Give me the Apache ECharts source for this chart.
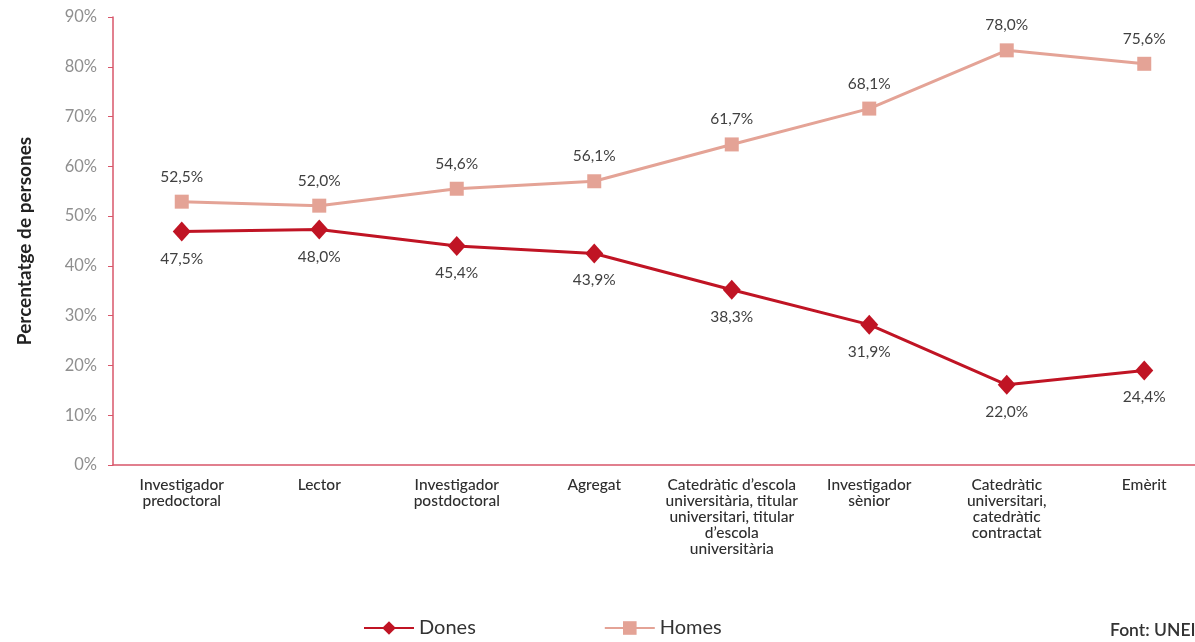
<!DOCTYPE html>
<html>
<head>
<meta charset="utf-8">
<script src="https://cdn.jsdelivr.net/npm/echarts@6/dist/echarts.min.js"></script>
<style>
  html, body { margin: 0; padding: 0; background: #fff; overflow: hidden; }
  /* the original is cropped on the right, so the canvas runs a bit past the window */
  #chart { width: 1225px; height: 642px; }
</style>
</head>
<body>
<div id="chart"></div>
<script>
  // categories
  var categories = [
    'Investigador\npredoctoral',
    'Lector',
    'Investigador\npostdoctoral',
    'Agregat',
    'Catedràtic d’escola\nuniversitària, titular\nuniversitari, titular\nd’escola\nuniversitària',
    'Investigador\nsènior',
    'Catedràtic\nuniversitari,\ncatedràtic\ncontractat',
    'Emèrit'
  ];
  // plotted positions (as drawn in the picture)
  var donesValues = [46.9, 47.3, 44.0, 42.5, 35.2, 28.2, 16.1, 19.0];
  var homesValues = [52.9, 52.1, 55.5, 57.0, 64.4, 71.6, 83.3, 80.6];
  // printed labels
  var donesLabels = ['47,5%', '48,0%', '45,4%', '43,9%', '38,3%', '31,9%', '22,0%', '24,4%'];
  var homesLabels = ['52,5%', '52,0%', '54,6%', '56,1%', '61,7%', '68,1%', '78,0%', '75,6%'];

  var axisRed = '#d8566a';
  var donesColor = '#c01424';
  var homesColor = '#e4a396';

  var chart = echarts.init(document.getElementById('chart'));
  var option = {
    backgroundColor: '#fff',
    textStyle: { fontFamily: 'Lato, "Open Sans", sans-serif' },
    grid: { left: 113, right: 12, top: 17, bottom: 177, containLabel: false },
    legend: {
      bottom: -1,
      left: 358,
      itemWidth: 50,
      itemHeight: 17,
      itemGap: 128,
      textStyle: { fontSize: 20, color: '#333', fontFamily: 'Lato, sans-serif' },
      data: ['Dones', 'Homes']
    },
    xAxis: {
      type: 'category',
      data: categories,
      boundaryGap: true,
      axisLine: { lineStyle: { color: axisRed, width: 1.5 } },
      axisTick: { show: false },
      axisLabel: {
        interval: 0,
        color: '#2e2e2e',
        fontSize: 15.5,
        fontWeight: 500,
        lineHeight: 16,
        margin: 12
      }
    },
    yAxis: {
      type: 'value',
      min: 0,
      max: 90,
      interval: 10,
      name: 'Percentatge de persones',
      nameLocation: 'middle',
      nameGap: 79,
      nameTextStyle: { fontSize: 19, fontWeight: 'bold', color: '#222' },
      axisLine: { show: true, lineStyle: { color: axisRed, width: 1.5 } },
      axisTick: { show: true, length: 5, lineStyle: { color: axisRed } },
      axisLabel: { color: '#8f8f8f', fontSize: 16.5, margin: 16, formatter: '{value}%' },
      splitLine: { show: false }
    },
    series: [
      {
        name: 'Dones',
        type: 'line',
        data: donesValues,
        symbol: 'diamond',
        symbolSize: [18, 20],
        lineStyle: { color: donesColor, width: 3 },
        itemStyle: { color: donesColor },
        label: {
          show: true,
          position: 'bottom',
          distance: 9,
          color: '#404040',
          fontSize: 15.5,
          formatter: function (p) { return donesLabels[p.dataIndex]; }
        },
        z: 3
      },
      {
        name: 'Homes',
        type: 'line',
        data: homesValues,
        symbol: 'rect',
        symbolSize: 14,
        lineStyle: { color: homesColor, width: 3 },
        itemStyle: { color: homesColor },
        label: {
          show: true,
          position: 'top',
          distance: 10,
          color: '#404040',
          fontSize: 15.5,
          formatter: function (p) { return homesLabels[p.dataIndex]; }
        },
        z: 2
      }
    ],
    graphic: [
      {
        type: 'text',
        left: 1110,
        top: 621,
        style: { text: 'Font: UNEIX', fontSize: 17.5, fontWeight: 600, fill: '#333', fontFamily: 'Lato, sans-serif' }
      }
    ]
  };
  chart.setOption(option);
</script>
</body>
</html>
